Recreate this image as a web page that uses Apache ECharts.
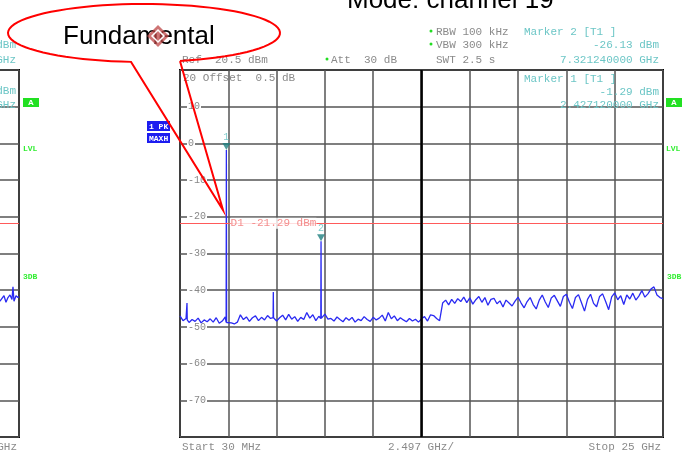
<!DOCTYPE html>
<html>
<head>
<meta charset="utf-8">
<script src="https://cdn.jsdelivr.net/npm/echarts@6/dist/echarts.min.js"></script>
<style>
  html, body { margin: 0; padding: 0; background: #fff; }
  #chart { width: 690px; height: 455px; }
</style>
</head>
<body>
<div id="chart"></div>
<script>
// sweep: 30 MHz .. 25 GHz, 2.497 GHz/div, ref 20.5 dBm, 10 dB/div
const startMHz = 30;
const stopMHz = 25000;
const divMHz = 2497;
const refLevel = 20.5;
const bottomLevel = -79.5;

// noise floor, evenly spaced sweep points
const noiseLevels = [
  -46.5, -47.8, -47.2, -48.3, -47.5, -48.0, -47.1, -48.4, -47.6, -48.1,
  -47.3, -48.2, -47.0, -48.5, -47.9, -46.8, -48.6, -48.4, -48.7, -48.2,
  -46.2, -47.5, -46.8, -48.0, -47.0, -46.5, -47.8, -46.9, -47.6, -46.4,
  -47.2, -46.8, -47.9, -47.0, -46.3, -47.6, -46.1, -47.4, -46.7, -48.0,
  -46.9, -47.5, -45.6, -47.1, -46.2, -47.8, -46.6, -47.3, -46.0, -47.4,
  -47.2, -47.9, -46.8, -47.5, -48.1, -47.0, -47.7, -46.9, -48.2, -47.4,
  -47.8, -46.7, -47.5, -48.0, -46.9, -47.6, -47.1, -46.3, -47.9, -45.6,
  -47.3, -46.5, -47.8, -47.0, -47.6, -48.1, -47.2, -47.9, -47.4, -48.2,
  -47.3, -46.7, -47.9, -46.2, -46.4, -47.2, -47.8, -43.0, -42.2, -43.5,
  -42.0, -43.1, -41.8, -42.6, -41.4, -42.9, -41.6, -43.3, -42.1, -41.2,
  -42.8, -41.5, -43.6, -42.0, -41.7, -43.2, -42.4, -44.1, -42.2, -43.0,
  -43.8, -42.5, -41.4, -43.0, -44.3, -42.6, -41.5, -43.4, -44.6, -42.2,
  -40.8, -42.7, -44.2, -41.6, -40.9, -42.4, -43.9, -41.2, -40.6, -42.8,
  -44.5, -41.5, -40.7, -42.9, -45.2, -42.0, -40.6, -43.1, -44.0, -41.2,
  -40.5, -42.6, -44.8, -41.3, -40.2, -42.1, -41.0, -43.4, -40.8, -41.9,
  -40.3, -42.2, -41.1, -39.6, -41.4, -40.5, -39.2, -38.6, -40.8, -41.5, -41.8
];

// discrete spurs / harmonics (peak and the floor right beside them)
const spikeFreqs = [392, 2427.12, 4854, 7321.24];
const spikeLevels = [-43.0, -1.29, -40.0, -26.13];
const spikeBase = [-47.6, -48.3, -47.0, -47.2];

// markers
const markerFreqs = [2427.12, 7321.24];
const markerLevels = [-1.29, -26.13];
const displayLine = -21.29;

// right end of the neighbouring screenshot (left edge of the picture)
const leftFreqs = [23900, 24017, 24120, 24224, 24327, 24430, 24534, 24637, 24689, 24741, 24844, 24948, 25000];
const leftLevels = [-41.8, -42.5, -43.0, -41.0, -42.8, -41.5, -40.8, -42.0, -38.6, -42.5, -41.0, -41.5, -41.3];

const MONO = '"Liberation Mono", "DejaVu Sans Mono", monospace';
const SANS = '"Liberation Sans", Arial, sans-serif';

function buildTrace() {
  const step = (stopMHz - startMHz) / (noiseLevels.length - 1);
  const pts = noiseLevels.map((v, i) => [startMHz + i * step, v]);
  spikeFreqs.forEach((f, k) => {
    pts.push([f - 12, spikeBase[k]], [f, spikeLevels[k]], [f + 12, spikeBase[k]]);
  });
  pts.sort((a, b) => a[0] - b[0]);
  return pts;
}

function txt(x, y, s, fill, opts) {
  opts = opts || {};
  return {
    type: 'text', x: x, y: y, z: 10,
    style: {
      text: s, fill: fill,
      font: opts.font || ('11px ' + MONO),
      align: opts.align || 'left',
      verticalAlign: opts.va || 'middle'
    }
  };
}

function callout() {
  const cx = 144, cy = 33, rx = 136, ry = 29;
  const t0 = Math.atan2((61 - cy) / ry, (180 - cx) / rx);
  const t1 = Math.atan2((62 - cy) / ry, (131 - cx) / rx) - 2 * Math.PI;
  const pts = [];
  for (let i = 0; i <= 80; i++) {
    const t = t0 + (t1 - t0) * i / 80;
    pts.push([cx + rx * Math.cos(t), cy + ry * Math.sin(t)]);
  }
  pts.push([223, 210], pts[0]);
  return { type: 'polyline', z: 20, shape: { points: pts }, style: { stroke: '#ff0000', lineWidth: 2, fill: null } };
}

const axisGrey = { color: '#555', width: 1.5 };

function xAx(gi) {
  return {
    type: 'value', gridIndex: gi, min: startMHz, max: stopMHz, interval: divMHz,
    axisLine: { show: false }, axisTick: { show: false }, axisLabel: { show: false },
    splitLine: { show: true, lineStyle: axisGrey }
  };
}

function yAx(gi, labels) {
  return {
    type: 'value', gridIndex: gi, min: bottomLevel, max: refLevel, interval: 10,
    axisLine: { show: false }, axisTick: { show: false },
    splitLine: { show: true, lineStyle: axisGrey },
    axisLabel: {
      show: labels, inside: true, margin: 7,
      color: '#888', fontFamily: MONO, fontSize: 10,
      backgroundColor: '#fff', padding: [0, 1],
      formatter: v => (v > 20 || v < -79) ? '' : String(Math.floor(v))
    }
  };
}

const chart = echarts.init(document.getElementById('chart'));

const greenBox = (x) => [
  { type: 'rect', z: 10, shape: { x: x, y: 98, width: 16, height: 9 }, style: { fill: '#22e022' } },
  txt(x + 8, 102.5, 'A', '#fff', { font: 'bold 8px ' + SANS, align: 'center' })
];

const graphics = [
  // title line cut at the top
  txt(347, 14, 'Mode: channel 19', '#000', { font: '26px ' + SANS, va: 'bottom' }),
  // callout
  callout(),
  txt(63, 37, 'Fundamental', '#000', { font: '26px ' + SANS }),
  { type: 'polygon', z: 21, shape: { points: [[158, 25], [169, 36], [158, 47], [147, 36]] },
    style: { fill: 'rgba(190,70,70,0.75)' } },
  { type: 'polygon', z: 22, shape: { points: [[158, 30], [164, 36], [158, 42], [152, 36]] },
    style: { fill: null, stroke: '#fff', lineWidth: 1.5 } },
  // instrument header
  txt(182, 60, 'Ref  20.5 dBm', '#8a8a8a'),
  { type: 'circle', z: 10, shape: { cx: 327, cy: 59, r: 1.5 }, style: { fill: '#22dd22' } },
  txt(331, 60, 'Att  30 dB', '#8a8a8a'),
  { type: 'circle', z: 10, shape: { cx: 431, cy: 31, r: 1.5 }, style: { fill: '#22dd22' } },
  txt(436, 32, 'RBW 100 kHz', '#8a8a8a'),
  { type: 'circle', z: 10, shape: { cx: 431, cy: 44, r: 1.5 }, style: { fill: '#22dd22' } },
  txt(436, 45, 'VBW 300 kHz', '#8a8a8a'),
  txt(436, 60, 'SWT 2.5 s', '#8a8a8a'),
  txt(524, 32, 'Marker 2 [T1 ]', '#6cc6c6'),
  txt(659, 45, '-26.13 dBm', '#6cc6c6', { align: 'right' }),
  txt(659, 60, '7.321240000 GHz', '#6cc6c6', { align: 'right' }),
  txt(524, 79, 'Marker 1 [T1 ]', '#6cc6c6'),
  txt(659, 92, '-1.29 dBm', '#6cc6c6', { align: 'right' }),
  txt(659, 105, '2.427120000 GHz', '#6cc6c6', { align: 'right' }),
  txt(183, 78, '20 Offset  0.5 dB', '#8a8a8a'),
  // footer
  txt(182, 447, 'Start 30 MHz', '#8a8a8a'),
  txt(388, 447, '2.497 GHz/', '#8a8a8a'),
  txt(661, 447, 'Stop 25 GHz', '#8a8a8a', { align: 'right' }),
  // trace info box
  { type: 'rect', z: 10, shape: { x: 147, y: 121, width: 23, height: 10 }, style: { fill: '#1c1cf0' } },
  { type: 'rect', z: 10, shape: { x: 147, y: 133, width: 23, height: 10 }, style: { fill: '#1c1cf0' } },
  txt(149, 126.5, '1 PK', '#fff', { font: 'bold 8px ' + MONO }),
  txt(149, 138.5, 'MAXH', '#fff', { font: 'bold 8px ' + MONO }),
  // side flags
  ...greenBox(23), ...greenBox(666),
  txt(23, 149, 'LVL', '#33ee33', { font: 'bold 8px ' + MONO }),
  txt(23, 277, '3DB', '#33ee33', { font: 'bold 8px ' + MONO }),
  txt(666, 149, 'LVL', '#33ee33', { font: 'bold 8px ' + MONO }),
  txt(667, 277, '3DB', '#33ee33', { font: 'bold 8px ' + MONO }),
  // neighbouring screenshot text remnants
  txt(16, 45, '-26.13 dBm', '#6cc6c6', { align: 'right' }),
  txt(16, 60, '7.321240000 GHz', '#6cc6c6', { align: 'right' }),
  txt(16, 91, '-1.29 dBm', '#6cc6c6', { align: 'right' }),
  txt(16, 105, '2.427120000 GHz', '#6cc6c6', { align: 'right' }),
  txt(17, 447, 'Stop 25 GHz', '#8a8a8a', { align: 'right' })
];

chart.setOption({
  animation: false,
  backgroundColor: '#fff',
  grid: [
    { left: 180, top: 70, width: 483, height: 367, show: true, borderColor: '#000', borderWidth: 2, outerBoundsMode: 'none' },
    { left: -464, top: 70, width: 483, height: 367, show: true, borderColor: '#000', borderWidth: 2, outerBoundsMode: 'none' }
  ],
  xAxis: [xAx(0), xAx(1)],
  yAxis: [yAx(0, true), yAx(1, false)],
  series: [
    {
      type: 'line', xAxisIndex: 0, yAxisIndex: 0, data: buildTrace(),
      symbol: 'none', lineStyle: { color: '#2a2af2', width: 1.3 }, z: 3,
      markLine: {
        silent: true, symbol: 'none', label: { show: false },
        data: [
          { yAxis: displayLine, lineStyle: { color: '#ff5a5a', width: 1, type: 'solid' } },
          { xAxis: startMHz + 5 * divMHz, lineStyle: { color: '#000', width: 2.5, type: 'solid' } }
        ]
      }
    },
    {
      type: 'scatter', xAxisIndex: 0, yAxisIndex: 0, z: 5,
      data: [[2620, displayLine]], symbolSize: 1,
      itemStyle: { color: 'rgba(0,0,0,0)' },
      label: {
        show: true, position: 'right', distance: 0,
        formatter: 'D1 -21.29 dBm', color: '#f07070',
        fontFamily: MONO, fontSize: 11, backgroundColor: '#fff', padding: [0, 0]
      }
    },
    {
      type: 'scatter', xAxisIndex: 0, yAxisIndex: 0, z: 6,
      data: markerFreqs.map((f, i) => [f, markerLevels[i]]),
      symbol: 'triangle', symbolRotate: 180, symbolSize: [8, 7], symbolOffset: [0, '-50%'],
      itemStyle: { color: '#1f8080' },
      label: {
        show: true, position: 'top', distance: 1,
        formatter: p => String(p.dataIndex + 1),
        color: '#5fbfbf', fontFamily: MONO, fontSize: 10
      }
    },
    {
      type: 'line', xAxisIndex: 1, yAxisIndex: 1,
      data: leftFreqs.map((f, i) => [f, leftLevels[i]]),
      symbol: 'none', lineStyle: { color: '#2a2af2', width: 1.3 },
      markLine: {
        silent: true, symbol: 'none', label: { show: false },
        data: [{ yAxis: displayLine, lineStyle: { color: '#ff5a5a', width: 1, type: 'solid' } }]
      }
    }
  ],
  graphic: graphics
});

window.addEventListener('resize', () => chart.resize());
</script>
</body>
</html>
